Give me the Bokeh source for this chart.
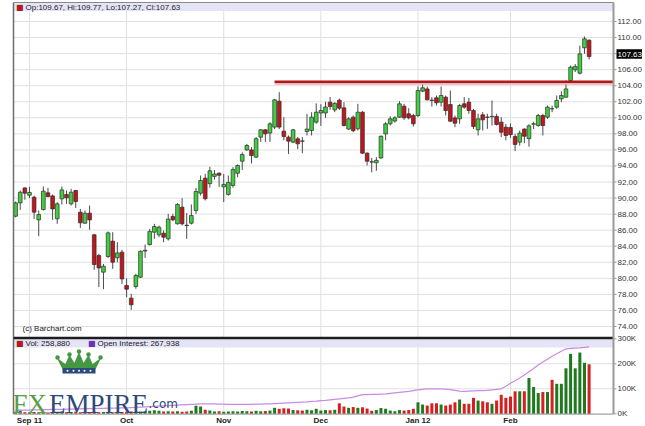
from bokeh.plotting import figure
from bokeh.models import Range1d, Label, BoxAnnotation, ColumnDataSource
from bokeh.core.properties import value
from bokeh.embed import file_html
from bokeh.resources import INLINE

# ---------------- data ----------------
month_ticks = [3, 24, 45, 66, 87, 107]
month_labels = ["Sep 11", "Oct", "Nov", "Dec", "Jan 12", "Feb"]
price_ticks = list(range(74, 113, 2))
volume_ticks = [0, 100000, 200000, 300000]
volume_tick_labels = ["0K", "100K", "200K", "300K"]

opens = [87.74, 89.40, 91.27, 90.35, 90.11, 87.28, 88.57, 90.65, 90.27, 87.41,
         89.90, 90.44, 89.28, 90.94, 88.24, 86.87, 88.12, 85.42, 82.84, 80.77,
         82.72, 84.63, 82.55, 83.26, 79.10, 77.53, 78.98, 80.14, 83.40, 84.21,
         85.75, 85.42, 85.62, 84.92, 87.71, 86.79, 88.87, 86.62, 86.87, 88.45,
         90.61, 92.48, 91.80, 92.70, 93.10, 91.40, 90.45, 91.57, 93.10, 94.60,
         96.00, 96.00, 95.10, 97.59, 98.50, 98.10, 98.84, 102.07, 98.34, 97.59,
         96.97, 97.38, 97.12, 98.30, 98.42, 99.46, 100.60, 100.60, 101.95, 100.99,
         102.20, 101.24, 98.60, 100.08, 98.63, 100.70, 95.60, 94.52, 94.40, 95.00,
         98.00, 99.25, 99.60, 100.08, 101.45, 100.50, 100.29, 100.29, 103.32, 103.60,
         102.20, 102.49, 101.95, 102.57, 101.66, 99.99, 99.87, 101.74, 101.95, 100.91,
         98.50, 100.37, 100.10, 100.14, 100.16, 99.46, 98.83, 98.80, 97.67, 96.97,
         98.60, 97.40, 99.20, 99.04, 100.29, 100.08, 101.14, 101.33, 102.36, 102.57,
         104.65, 105.98, 105.56, 108.72, 109.67]
highs = [89.57, 90.94, 91.35, 91.40, 90.30, 88.45, 91.44, 91.27, 90.44, 89.49,
         91.44, 90.94, 91.15, 91.02, 88.65, 88.45, 89.07, 85.54, 83.05, 81.80,
         85.83, 85.75, 84.50, 83.55, 80.00, 78.07, 80.56, 83.47, 84.20, 86.16,
         86.79, 86.58, 85.96, 88.03, 88.04, 89.37, 89.99, 88.12, 89.20, 91.28,
         92.81, 93.02, 93.90, 93.50, 93.20, 93.00, 92.80, 93.85, 94.20, 95.70,
         96.75, 96.35, 97.60, 98.60, 98.60, 99.46, 102.36, 103.20, 100.08, 97.80,
         98.60, 97.60, 97.60, 100.50, 100.70, 101.80, 101.70, 102.00, 102.60, 101.95,
         102.40, 101.95, 100.08, 100.29, 101.74, 100.83, 95.70, 95.00, 95.10, 97.80,
         99.46, 100.20, 100.20, 102.07, 101.74, 101.20, 100.50, 103.90, 104.32, 103.90,
         102.57, 102.78, 103.90, 102.78, 103.40, 100.29, 101.74, 102.57, 102.49, 101.12,
         100.50, 100.70, 100.50, 102.16, 100.50, 100.08, 99.25, 99.30, 98.00, 98.42,
         98.70, 99.20, 99.50, 100.50, 100.50, 101.53, 101.53, 102.78, 103.30, 104.65,
         106.50, 106.70, 109.00, 110.13, 109.77]
lows = [87.60, 88.53, 89.80, 90.00, 87.40, 85.25, 88.45, 90.10, 87.28, 86.79,
        89.19, 89.28, 89.07, 88.78, 86.29, 86.79, 86.04, 81.06, 78.90, 78.65,
        82.55, 81.18, 82.00, 79.30, 77.65, 76.07, 78.70, 80.06, 82.55, 84.09,
        84.92, 85.13, 84.50, 84.71, 87.12, 86.71, 86.58, 84.92, 86.71, 88.04,
        90.32, 89.70, 91.30, 92.30, 91.40, 89.50, 90.30, 91.30, 92.60, 93.50,
        95.90, 94.30, 95.00, 97.00, 97.00, 97.00, 98.60, 98.60, 97.20, 95.50,
        96.84, 96.10, 95.60, 97.80, 97.80, 99.25, 99.00, 100.00, 101.00, 100.70,
        100.99, 98.92, 98.50, 98.20, 98.42, 95.50, 94.06, 93.20, 93.40, 94.90,
        97.20, 99.04, 99.40, 99.99, 99.75, 99.80, 98.90, 100.08, 103.20, 102.16,
        101.41, 101.53, 101.41, 100.29, 99.46, 98.83, 99.25, 101.12, 100.50, 98.60,
        97.80, 98.42, 98.63, 99.04, 99.04, 97.60, 97.20, 97.50, 95.85, 96.55,
        96.84, 96.40, 98.60, 98.90, 97.80, 99.87, 100.70, 101.12, 101.95, 102.50,
        104.44, 105.70, 105.40, 107.97, 107.27]
closes = [89.40, 90.73, 90.61, 90.70, 88.24, 87.95, 90.86, 90.19, 88.65, 89.28,
          91.02, 90.03, 90.73, 89.57, 86.91, 88.12, 87.28, 81.72, 81.30, 81.51,
          85.66, 82.01, 83.17, 79.93, 78.65, 76.70, 80.35, 83.38, 83.50, 85.83,
          86.45, 86.37, 85.13, 87.37, 87.29, 89.20, 86.79, 86.58, 87.83, 90.82,
          92.19, 89.91, 93.40, 93.00, 92.85, 91.70, 91.95, 93.56, 94.06, 95.43,
          96.55, 95.30, 97.40, 98.50, 98.00, 99.25, 102.24, 98.84, 97.67, 97.09,
          98.50, 96.76, 97.08, 98.60, 100.08, 100.70, 100.90, 101.35, 101.41, 101.80,
          101.20, 99.04, 99.87, 98.40, 100.70, 95.60, 94.60, 94.48, 94.70, 97.70,
          99.25, 99.87, 100.00, 101.74, 100.00, 100.00, 99.25, 103.40, 103.74, 102.24,
          102.16, 101.87, 102.78, 100.91, 99.58, 99.33, 101.53, 101.33, 100.91, 98.92,
          99.87, 99.75, 100.06, 100.18, 99.17, 98.21, 97.80, 97.90, 96.68, 98.09,
          97.70, 99.00, 99.25, 100.29, 99.04, 101.33, 101.12, 102.16, 102.78, 103.60,
          106.31, 106.39, 107.97, 109.84, 107.63]
volume = [8000, 16000, 6000, 5000, 7000, 6000, 6000, 5000, 7000, 6000,
          8000, 6000, 7000, 8000, 6000, 5000, 7000, 8000, 6000, 7000,
          6000, 5000, 6000, 7000, 8000, 9000, 7000, 8000, 9000, 12000,
          14000, 12000, 9000, 10000, 9000, 10000, 8000, 9000, 12000, 32000,
          29000, 16000, 13000, 9000, 10000, 8000, 9000, 10000, 9000, 11000,
          10000, 9000, 12000, 10000, 11000, 13000, 24000, 20000, 22000, 21000,
          15000, 14000, 13000, 16000, 14000, 20000, 13000, 15000, 14000, 16000,
          42000, 29000, 24000, 27000, 24000, 26000, 21000, 12000, 15000, 23000,
          20000, 13000, 10000, 15000, 13000, 15000, 20000, 46000, 37000, 33000,
          42000, 42000, 37000, 33000, 37000, 46000, 57000, 40000, 40000, 64000,
          53000, 50000, 46000, 40000, 53000, 76000, 64000, 69000, 90000, 90000,
          90000, 143000, 107000, 83000, 87000, 87000, 136000, 120000, 120000, 182000,
          240000, 182000, 245000, 204000, 198000]
open_interest = [14000, 14000, 15000, 15000, 16000, 16000, 17000, 17000, 18000, 18000,
                 18000, 19000, 19000, 20000, 20000, 21000, 21000, 21000, 22000, 22000,
                 23000, 23000, 23000, 24000, 24000, 25000, 26000, 27000, 28000, 29000,
                 30000, 31000, 32000, 33000, 34000, 35000, 36000, 37000, 38000, 39000,
                 40000, 40000, 40000, 40000, 39000, 39000, 38000, 38000, 38000, 38000,
                 38000, 38000, 39000, 39000, 40000, 40000, 41000, 42000, 43000, 44000,
                 45000, 46000, 47000, 48000, 50000, 51000, 53000, 54000, 56000, 58000,
                 60000, 62000, 64000, 67000, 72000, 77000, 77000, 78000, 78000, 79000,
                 80000, 82000, 84000, 86000, 88000, 90000, 93000, 96000, 98000, 100000,
                 100000, 100000, 100000, 99000, 97000, 94000, 91000, 90000, 91000, 92000,
                 93000, 93000, 94000, 96000, 98000, 100000, 110000, 122000, 132000, 143000,
                 155000, 168000, 181000, 195000, 207000, 218000, 230000, 240000, 250000, 260000,
                 262000, 263000, 264000, 266000, 267938]
resistance_level = 104.5
resistance_start = 56
header_volume = 258880
header_open_interest = 267938

# ---------------- geometry: pixel positions -> coordinates ----------------
W, H = 645, 426
PX_PER_PRICE = 8.026


def X(rx):
    """candle-index coordinate of a pixel column"""
    return (rx - 15.1) / 4.625


def Y(ry):
    """price coordinate of a pixel row"""
    return 112.0 - (ry - 21.0) / PX_PER_PRICE


def V(ry):
    """volume coordinate of a pixel row"""
    return (413.3 - ry) / 0.25 * 1000.0


PANEL_L, PANEL_R = 13.0, 613.0
MAIN_TOP, SEP_Y, VOL_BOT = 2.0, 337.5, 413.6
HDR1_BOT, HDR2_TOP, HDR2_BOT = 10.5, 338.0, 347.0

FONT = "Liberation Sans"
GREEN = "#3fcf3f"
RED = "#c0161c"
VGREEN = "#1f7a1f"
VRED = "#d42020"
GRID = "#e0e0e0"
AXIS = "#9a9a9a"
BAND = "#e4e4f6"

up = [c >= o for o, c in zip(opens, closes)]
src = ColumnDataSource(dict(
    x=list(range(len(closes))), high=highs, low=lows,
    top=[max(o, c) for o, c in zip(opens, closes)],
    bottom=[min(o, c) for o, c in zip(opens, closes)],
    color=[GREEN if u else RED for u in up],
    volume=volume, vcolor=[VGREEN if u else VRED for u in up],
    oi=open_interest,
))

p = figure(width=W, height=H, x_range=Range1d(X(0), X(W)), y_range=Range1d(Y(H), Y(0)),
           extra_y_ranges={"vol": Range1d(V(H), V(0))},
           output_backend="svg", toolbar_location=None,
           x_axis_location=None, y_axis_location=None,
           min_border_left=0, min_border_right=0, min_border_top=0, min_border_bottom=0,
           background_fill_color="white", border_fill_color="white", outline_line_color=None)
p.grid.visible = False

# header bands
p.add_layout(BoxAnnotation(left=X(PANEL_L), right=X(PANEL_R), top=Y(MAIN_TOP), bottom=Y(HDR1_BOT),
                           fill_color=BAND, fill_alpha=1.0, line_color=None, level="underlay"))
p.add_layout(BoxAnnotation(left=X(PANEL_L), right=X(PANEL_R), top=Y(HDR2_TOP), bottom=Y(HDR2_BOT),
                           fill_color=BAND, fill_alpha=1.0, line_color=None, level="underlay"))

# grid lines
p.segment(x0=X(PANEL_L), x1=X(PANEL_R), y0=price_ticks, y1=price_ticks,
          line_color=GRID, line_width=1, level="underlay")
p.segment(x0=month_ticks, x1=month_ticks, y0=Y(SEP_Y), y1=Y(HDR1_BOT),
          line_color=GRID, line_width=1, level="underlay")
p.segment(x0=X(PANEL_L), x1=X(PANEL_R), y0=volume_ticks[1:-1], y1=volume_ticks[1:-1],
          line_color=GRID, line_width=1, level="underlay", y_range_name="vol")
p.segment(x0=month_ticks, x1=month_ticks, y0=Y(VOL_BOT), y1=Y(HDR2_BOT),
          line_color=GRID, line_width=1, level="underlay")

# candles
p.segment(x0="x", y0="high", x1="x", y1="low", source=src, line_color="#4a4a4a", line_width=1)
p.vbar(x="x", width=0.8, top="top", bottom="bottom", fill_color="color",
       line_color="#2d2d2d", line_width=0.7, source=src)

# resistance line
p.segment(x0=resistance_start, y0=resistance_level - 0.22, x1=X(PANEL_R), y1=resistance_level - 0.22,
          line_color="#e7b4b4", line_width=2.5)
p.segment(x0=resistance_start, y0=resistance_level, x1=X(PANEL_R), y1=resistance_level,
          line_color="#b3161b", line_width=2.6)

# volume and open interest
p.vbar(x="x", width=0.65, top="volume", bottom=0, fill_color="vcolor", line_color=None,
       source=src, y_range_name="vol")
p.line(x="x", y="oi", line_color="#c88be6", line_width=1.2, source=src, y_range_name="vol")

# frame lines
p.segment(x0=X(PANEL_L), x1=X(PANEL_L), y0=Y(MAIN_TOP), y1=Y(VOL_BOT), line_color="#6e6e6e", line_width=1.5)
p.segment(x0=X(PANEL_L), x1=X(PANEL_R), y0=Y(MAIN_TOP), y1=Y(MAIN_TOP), line_color="#8a8a8a", line_width=1)
p.segment(x0=X(PANEL_L), x1=X(PANEL_R), y0=Y(VOL_BOT), y1=Y(VOL_BOT), line_color="#8a8a8a", line_width=1)
p.segment(x0=X(PANEL_L), x1=X(PANEL_R), y0=Y(SEP_Y), y1=Y(SEP_Y), line_color="#1e1e1e", line_width=2.5)
p.segment(x0=X(PANEL_R), x1=X(PANEL_R), y0=Y(MAIN_TOP), y1=Y(VOL_BOT), line_color=AXIS, line_width=2)

# right axes: ticks and labels
label_x = X(PANEL_R + 4)
p.segment(x0=X(PANEL_R), x1=X(PANEL_R + 3), y0=price_ticks, y1=price_ticks, line_color=AXIS, line_width=1)
shown = [t for t in price_ticks if abs(t - closes[-1]) >= 1.0]
p.text(x=label_x, y=shown, text=["%.2f" % t for t in shown],
       text_font=value(FONT), text_font_size="8px", text_color="#333333",
       text_align="left", text_baseline="middle")
p.segment(x0=X(PANEL_R), x1=X(PANEL_R + 3), y0=volume_ticks, y1=volume_ticks,
          line_color=AXIS, line_width=1, y_range_name="vol")
p.text(x=label_x, y=volume_ticks, text=volume_tick_labels, y_range_name="vol",
       text_font=value(FONT), text_font_size="8px", text_color="#333333",
       text_align="left", text_baseline="middle")

# bottom axis labels
p.text(x=month_ticks, y=Y(419.6), text=month_labels,
       text_font=value(FONT), text_font_size="8px", text_font_style="bold", text_color="#222222",
       text_align="center", text_baseline="middle")

# last price box on the price axis
BOX_H_PX, BOX_SHIFT_PX = 9.5, 2.5
box_y = closes[-1] + BOX_SHIFT_PX / PX_PER_PRICE
p.quad(left=X(PANEL_R + 3), right=X(641.5),
       top=box_y + BOX_H_PX / 2 / PX_PER_PRICE, bottom=box_y - BOX_H_PX / 2 / PX_PER_PRICE,
       fill_color="black", line_color=None)
p.text(x=label_x, y=box_y, text=["%.2f" % closes[-1]],
       text_font=value(FONT), text_font_size="8px", text_color="white",
       text_align="left", text_baseline="middle")

# header texts
hdr_y = Y(6.8)
p.add_layout(Label(x=X(15.5), y=hdr_y, text="\u25a0", text_font="DejaVu Sans",
                   text_font_size="8px", text_color="#b01c1c", text_baseline="middle"))
p.add_layout(Label(x=X(25), y=hdr_y,
                   text="Op:%.2f, Hi:%.2f, Lo:%.2f, Cl:%.2f" % (opens[-1], highs[-1], lows[-1], closes[-1]),
                   text_font=FONT, text_font_size="8px", text_color="#222222", text_baseline="middle"))
p.add_layout(Label(x=X(22), y=Y(328), text="(c) Barchart.com",
                   text_font=FONT, text_font_size="8px", text_color="#222222", text_baseline="middle"))

vh_y = Y(343.3)
p.add_layout(Label(x=X(15.5), y=vh_y, text="\u25a0", text_font="DejaVu Sans",
                   text_font_size="8px", text_color="#b01c1c", text_baseline="middle"))
p.add_layout(Label(x=X(25), y=vh_y, text="Vol: {:,}".format(header_volume),
                   text_font=FONT, text_font_size="8px", text_color="#222222", text_baseline="middle"))
p.add_layout(Label(x=X(87.5), y=vh_y, text="\u25a0", text_font="DejaVu Sans",
                   text_font_size="8px", text_color="#7030b0", text_baseline="middle"))
p.add_layout(Label(x=X(97), y=vh_y, text="Open Interest: {:,}".format(header_open_interest),
                   text_font=FONT, text_font_size="8px", text_color="#222222", text_baseline="middle"))

# FXEMPIRE watermark (crown drawn from a small outline in pixels)
CROWN_X0, CROWN_Y0 = 57.0, 352.0
crown_pts = [(0, 6), (8, 12), (12, 3), (17, 11), (21.5, 0), (26, 11), (31, 3), (35, 12), (43, 6),
             (38, 16), (5, 16)]
p.patch(x=[X(CROWN_X0 + dx) for dx, dy in crown_pts], y=[Y(CROWN_Y0 + dy) for dx, dy in crown_pts],
        fill_color="#43993f", line_color="#2f7a2f", line_width=0.5)
p.quad(left=X(CROWN_X0 + 5), right=X(CROWN_X0 + 38), top=Y(CROWN_Y0 + 15.5), bottom=Y(CROWN_Y0 + 21),
       fill_color="#2d4a78", line_color=None)
balls = [(0, 5), (12, 2), (21.5, -1), (31, 2), (43, 5)]
p.scatter(x=[X(CROWN_X0 + dx) for dx, dy in balls], y=[Y(CROWN_Y0 + dy) for dx, dy in balls],
          size=4.5, fill_color="#43993f", line_color=None)
p.scatter(x=[X(CROWN_X0 + d) for d in (10, 16, 21.5, 27, 33)], y=Y(CROWN_Y0 + 18.3),
          size=2, fill_color="white", line_color=None)

logo_base = Y(403.3)
p.add_layout(Label(x=X(12), y=logo_base, text="FX", text_font="Liberation Serif",
                   text_font_size="27px", text_color="#5a9e48", text_baseline="alphabetic"))
p.add_layout(Label(x=X(48.5), y=logo_base, text="EMPIRE", text_font="Liberation Serif",
                   text_font_size="27px", text_color="#2d4a78", text_baseline="alphabetic"))
p.add_layout(Label(x=X(148), y=logo_base, text=".com", text_font="DejaVu Sans",
                   text_font_size="12px", text_color="#2d4a78", text_baseline="alphabetic"))

open("out.html", "w").write(file_html(p, INLINE))
